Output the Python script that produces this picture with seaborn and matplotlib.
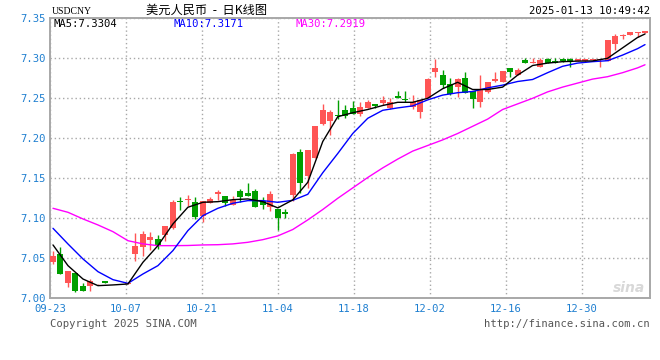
import numpy as np
import pandas as pd
import matplotlib
matplotlib.use("Agg")
import matplotlib.pyplot as plt
import seaborn as sns

# ---------------- data ----------------
opens = [7.0458, 7.0554, 7.0191, 7.0316, 7.0149, 7.0149, 7.0175, 7.0212, 7.0175, 7.0176,
         7.0175, 7.0554, 7.0646, 7.0733, 7.0741, 7.0796, 7.0879, 7.1221, 7.1225, 7.1204,
         7.1025, 7.1192, 7.1304, 7.1275, 7.1167, 7.1346, 7.1317, 7.1346, 7.1213, 7.1142,
         7.1117, 7.1075, 7.1292, 7.1833, 7.1533, 7.1750, 7.2175, 7.2217, 7.2296, 7.2354,
         7.2375, 7.2304, 7.2375, 7.2429, 7.2437, 7.2383, 7.2529, 7.2492, 7.2396, 7.2333,
         7.2500, 7.2830, 7.2792, 7.2678, 7.2636, 7.2758, 7.2592, 7.2455, 7.2575, 7.2721,
         7.2700, 7.2875, 7.2792, 7.2980, 7.2938, 7.2896, 7.2988, 7.2967, 7.2988, 7.2988,
         7.2971, 7.2971, 7.2979, 7.2979, 7.2971, 7.3175, 7.3279, 7.3288, 7.3313, 7.3313]
highs = [7.0596, 7.0646, 7.0337, 7.0316, 7.0191, 7.0241, 7.0180, 7.0212, 7.0182, 7.0180,
         7.0190, 7.0812, 7.0837, 7.0825, 7.0792, 7.0908, 7.1229, 7.1263, 7.1292, 7.1263,
         7.1217, 7.1267, 7.1358, 7.1275, 7.1275, 7.1367, 7.1442, 7.1367, 7.1263, 7.1346,
         7.1117, 7.1117, 7.1817, 7.1862, 7.1854, 7.2154, 7.2429, 7.2354, 7.2479, 7.2417,
         7.2467, 7.2450, 7.2479, 7.2429, 7.2533, 7.2500, 7.2592, 7.2592, 7.2542, 7.2479,
         7.2750, 7.2985, 7.2854, 7.2758, 7.2758, 7.2825, 7.2592, 7.2792, 7.2708, 7.2825,
         7.2846, 7.2883, 7.2883, 7.3000, 7.3000, 7.3000, 7.3000, 7.3000, 7.3000, 7.3000,
         7.2996, 7.2996, 7.2996, 7.2996, 7.3230, 7.3300, 7.3300, 7.3333, 7.3333, 7.3342]
lows = [7.0429, 7.0300, 7.0145, 7.0083, 7.0095, 7.0095, 7.0172, 7.0187, 7.0175, 7.0176,
        7.0175, 7.0470, 7.0533, 7.0608, 7.0616, 7.0721, 7.0867, 7.1108, 7.1150, 7.0992,
        7.0958, 7.1192, 7.1229, 7.1150, 7.1167, 7.1208, 7.1279, 7.1142, 7.1117, 7.1096,
        7.0858, 7.1004, 7.1221, 7.1320, 7.1374, 7.1750, 7.2170, 7.2041, 7.2241, 7.2250,
        7.2304, 7.2283, 7.2375, 7.2375, 7.2417, 7.2367, 7.2500, 7.2450, 7.2367, 7.2258,
        7.2500, 7.2771, 7.2625, 7.2535, 7.2521, 7.2563, 7.2383, 7.2396, 7.2570, 7.2708,
        7.2700, 7.2771, 7.2792, 7.2946, 7.2938, 7.2896, 7.2942, 7.2938, 7.2958, 7.2888,
        7.2971, 7.2954, 7.2979, 7.2888, 7.2971, 7.3104, 7.3238, 7.3288, 7.3270, 7.3313]
closes = [7.0533, 7.0304, 7.0337, 7.0095, 7.0095, 7.0212, 7.0178, 7.0187, 7.0180, 7.0179,
          7.0188, 7.0658, 7.0804, 7.0771, 7.0666, 7.0908, 7.1208, 7.1200, 7.1246, 7.1021,
          7.1217, 7.1242, 7.1329, 7.1192, 7.1233, 7.1271, 7.1279, 7.1142, 7.1167, 7.1304,
          7.1004, 7.1058, 7.1805, 7.1445, 7.1854, 7.2154, 7.2354, 7.2333, 7.2275, 7.2283,
          7.2304, 7.2396, 7.2450, 7.2408, 7.2479, 7.2458, 7.2500, 7.2475, 7.2450, 7.2479,
          7.2742, 7.2878, 7.2667, 7.2548, 7.2738, 7.2563, 7.2488, 7.2615, 7.2708, 7.2738,
          7.2846, 7.2825, 7.2854, 7.2946, 7.2958, 7.2980, 7.2946, 7.2938, 7.2967, 7.2954,
          7.2996, 7.2996, 7.2996, 7.2996, 7.3230, 7.3280, 7.3292, 7.3333, 7.3333, 7.3342]

ma_slots = list(range(0, 80, 2)) + [79]
ma5 = [7.0667, 7.0408, 7.0241, 7.0158, 7.0167, 7.0179, 7.0450, 7.0658, 7.0929, 7.1138,
       7.1200, 7.1208, 7.1233, 7.1242, 7.1208, 7.1130, 7.1230, 7.1450, 7.1960, 7.2270,
       7.2320, 7.2360, 7.2410, 7.2450, 7.2450, 7.2500, 7.2620, 7.2700, 7.2610, 7.2610,
       7.2640, 7.2790, 7.2910, 7.2940, 7.2958, 7.2965, 7.2967, 7.3000, 7.3130, 7.3260,
       7.3304]
ma10 = [7.0875, 7.0679, 7.0492, 7.0333, 7.0233, 7.0187, 7.0304, 7.0408, 7.0596, 7.0846,
        7.1033, 7.1125, 7.1188, 7.1221, 7.1221, 7.1200, 7.1225, 7.1300, 7.1570, 7.1810,
        7.2060, 7.2250, 7.2350, 7.2380, 7.2405, 7.2480, 7.2540, 7.2570, 7.2585, 7.2630,
        7.2665, 7.2710, 7.2735, 7.2820, 7.2900, 7.2940, 7.2958, 7.2970, 7.3040, 7.3120,
        7.3171]
ma30 = [7.1125, 7.1075, 7.0992, 7.0917, 7.0833, 7.0720, 7.0680, 7.0658, 7.0658, 7.0660,
        7.0667, 7.0670, 7.0680, 7.0700, 7.0733, 7.0780, 7.0860, 7.0980, 7.1110, 7.1250,
        7.1380, 7.1510, 7.1630, 7.1740, 7.1840, 7.1910, 7.1980, 7.2060, 7.2150, 7.2240,
        7.2360, 7.2430, 7.2500, 7.2580, 7.2640, 7.2690, 7.2740, 7.2770, 7.2820, 7.2880,
        7.2919]

tick_idx = [0, 10, 20, 30, 40, 50, 60, 70]
tick_labels = ["09-23", "10-07", "10-21", "11-04", "11-18", "12-02", "12-16", "12-30"]
y_ticks = [7.00, 7.05, 7.10, 7.15, 7.20, 7.25, 7.30, 7.35]

# ---------------- style ----------------
RED = "#FF5555"
GREEN = "#009F00"
AXIS_BLUE = "#1E7FD0"

sns.set_theme(style="white")
plt.rcParams['font.family'] = ['DejaVu Sans Mono', 'Noto Sans CJK SC']

fig = plt.figure(figsize=(6.6, 3.6), dpi=100)
W, H = 660.0, 360.0
ax = fig.add_axes([50 / W, 1 - 298.3 / H, 599.5 / W, 280 / H])

df = pd.DataFrame({"open": opens, "high": highs, "low": lows, "close": closes})
df["slot"] = np.arange(len(df))
up = df["close"] >= df["open"]
colors = np.where(up, RED, GREEN)
body_bottom = np.minimum(df["open"], df["close"])
body_h = np.maximum((df["close"] - df["open"]).abs(), 0.0007)

ax.vlines(df["slot"], df["low"], df["high"], colors=colors, lw=1, zorder=3)
ax.bar(df["slot"], body_h, bottom=body_bottom, width=0.8, color=colors,
       linewidth=0, zorder=3)

ma_df = pd.DataFrame({"slot": ma_slots, "MA5": ma5, "MA10": ma10, "MA30": ma30})
sns.lineplot(data=ma_df, x="slot", y="MA30", color="#FF00FF", lw=1.0, ax=ax, zorder=4)
sns.lineplot(data=ma_df, x="slot", y="MA10", color="#0000FF", lw=1.0, ax=ax, zorder=4)
sns.lineplot(data=ma_df, x="slot", y="MA5", color="#000000", lw=1.0, ax=ax, zorder=5)

ax.set_xlim(-0.4, 79.6)
ax.set_ylim(7.00, 7.35)
ax.set_xlabel("")
ax.set_ylabel("")

# sina's gridlines sit on a 76px-per-10-day grid starting at the left frame
tick_pos = [i * 76 / 75 - 0.4 for i in tick_idx]
ax.set_xticks(tick_pos)
ax.set_xticklabels(tick_labels)
ax.set_yticks(y_ticks)
ax.set_yticklabels([f"{v:.2f}" for v in y_ticks])
ax.tick_params(axis="both", length=0, labelsize=7.6, labelcolor=AXIS_BLUE)
ax.tick_params(axis="y", pad=3)
ax.tick_params(axis="x", pad=4)
ax.grid(True, linestyle=(0, (1, 2)), color="#A8A8A8", lw=1)
ax.set_axisbelow(True)
for s in ax.spines.values():
    s.set_color("#A8A8A8")
    s.set_linewidth(1.4)

# watermark
ax.text(0.965, 0.035, "sina", transform=ax.transAxes, ha="center", va="center",
        fontsize=10, fontstyle="italic", fontweight="bold", color="#D8D8D8",
        family="DejaVu Sans", zorder=1)

# header texts
fig.text(52 / W, 1 - 11 / H, "USDCNY", family="Liberation Serif", fontsize=7,
         color="#000000", va="center", ha="left")
fig.text(207 / W, 1 - 10.5 / H, "美元人民币  -  日K线图",
         family=["Noto Sans CJK SC", "DejaVu Sans"], fontsize=8.8,
         color="#000000", va="center", ha="center")
fig.text(650 / W, 1 - 11 / H, "2025-01-13 10:49:42", fontsize=7.6,
         color="#000000", va="center", ha="right")

# MA legend texts
fig.text(54 / W, 1 - 24 / H, "MA5:7.3304", fontsize=7.6, color="#000000", va="center")
fig.text(174 / W, 1 - 24 / H, "MA10:7.3171", fontsize=7.6, color="#0000FF", va="center")
fig.text(295 / W, 1 - 24 / H, "MA30:7.2919", fontsize=7.6, color="#FF00FF", va="center")

# footer
fig.text(50 / W, 1 - 324 / H, "Copyright 2025 SINA.COM", fontsize=7.6,
         color="#555555", va="center", ha="left")
fig.text(650 / W, 1 - 324 / H, "http://finance.sina.com.cn", fontsize=7.6,
         color="#555555", va="center", ha="right")

fig.savefig("out.png", dpi=100, facecolor="white")
